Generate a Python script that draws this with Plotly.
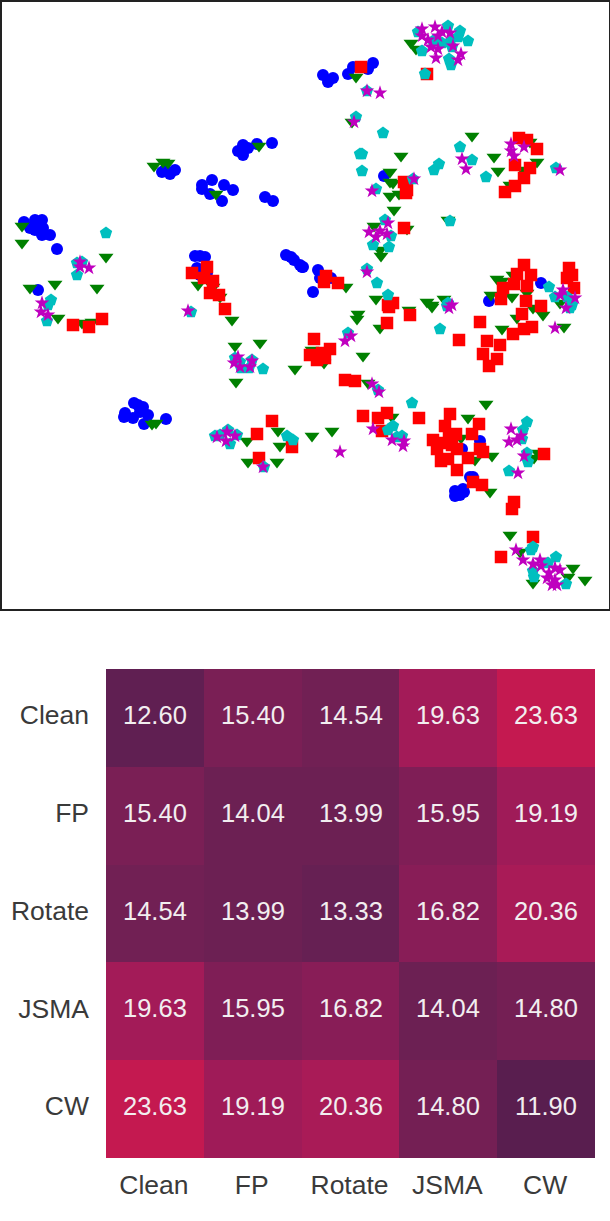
import plotly.graph_objects as go

# embedding points
blue_x = [24,35,42,30,35,43,42,50,57,38,162,170,175,165,202,202,212,210,224,233,222,243,238,243,248,257,272,265,273,195,200,205,197,200,207,286,291,294,300,302,323,328,333,353,348,368,373,384,303,318,320,331,313,541,489,134,143,125,124,133,140,148,144,166,138,480,462,473,470,455,463,455,460,464]
blue_y = [222,220,220,228,230,228,235,235,249,290,172,174,170,170,185,189,180,194,185,190,201,145,151,155,148,144,143,197,201,256,256,257,268,275,273,255,257,260,265,267,75,82,78,67,74,69,63,176,267,270,278,278,292,283,301,403,407,413,417,418,412,415,424,419,405,441,449,477,477,491,489,496,495,492]

green_x = [22,22,106,30,55,97,154,163,168,259,216,198,213,220,411,416,356,352,472,401,494,498,537,390,390,393,390,399,394,374,448,407,380,381,510,523,530,346,376,427,432,444,497,502,513,491,512,527,560,58,82,92,232,235,260,295,236,152,156,247,278,280,248,277,358,357,409,432,380,502,517,543,533,564,312,324,363,368,392,312,332,468,486,461,492,475,490,510,520,533,573,568,585,534,538]
green_y = [226,243,257,288,284,288,166,162,163,146,194,285,287,297,43,49,77,122,136,156,157,171,162,172,182,183,196,194,210,226,220,229,250,256,185,170,142,287,299,302,305,299,279,281,275,295,297,293,303,318,323,322,320,346,343,369,382,424,423,441,431,446,462,462,314,319,310,307,328,329,318,315,308,327,350,363,356,383,417,436,431,418,404,438,456,460,492,535,552,583,568,577,580,458,453]

red_x = [192,207,204,213,210,219,361,427,519,527,537,515,530,524,515,505,404,407,406,404,326,324,338,524,517,531,514,527,503,501,526,541,569,567,572,574,388,393,73,89,102,225,272,257,259,292,389,410,387,480,459,487,500,483,497,489,513,524,532,522,314,330,310,317,325,322,345,355,363,378,387,382,419,450,445,479,472,449,456,433,440,437,452,457,480,483,468,441,448,457,473,482,544,514,512,533,501]
red_y = [273,267,278,281,293,295,67,74,138,140,149,165,168,178,186,192,182,190,193,228,276,282,283,265,274,275,284,286,288,299,301,306,268,278,275,288,305,303,325,327,319,309,421,434,458,447,307,315,323,322,340,341,345,354,359,366,334,329,327,314,339,349,355,360,358,353,380,381,416,418,413,431,418,414,426,424,434,435,434,440,443,449,445,449,449,452,458,461,459,470,482,485,454,502,509,537,557]

cyan_x = [106,77,82,77,51,48,418,448,460,468,458,450,442,433,422,452,449,451,425,367,356,383,362,360,362,460,472,439,434,486,413,376,556,385,450,391,389,373,367,377,388,549,555,567,572,448,47,191,240,235,252,241,249,263,215,228,237,230,220,264,287,293,348,440,412,378,393,388,402,397,527,523,522,527,528,509,533,531,556,548,533,534,566,570,447]
cyan_y = [233,263,262,275,300,305,32,26,31,41,37,42,43,41,51,47,59,65,74,91,117,133,154,154,171,147,160,164,170,177,179,189,168,220,221,236,247,245,269,283,295,287,297,297,305,303,321,312,362,358,360,368,368,369,436,430,435,444,435,467,436,440,333,329,403,390,426,430,436,437,422,430,439,453,462,471,547,550,557,563,571,577,584,308,306]

magenta_x = [80,80,89,42,422,435,442,450,438,422,428,453,431,438,436,461,458,367,380,354,511,524,511,514,462,466,560,414,372,388,369,380,387,376,367,563,560,575,452,41,48,188,238,234,240,252,250,227,217,235,226,263,449,566,555,351,345,372,379,373,392,404,403,340,511,521,517,509,524,518,516,523,533,540,541,555,560,549,547,555,552,557]
magenta_y = [262,267,268,303,29,27,32,33,36,36,40,46,47,49,58,54,60,91,93,122,144,147,151,156,159,169,170,179,191,223,232,231,234,237,272,290,295,298,305,312,315,311,357,363,367,361,367,432,437,436,441,467,308,308,328,336,341,384,392,429,440,441,446,452,429,436,440,442,456,473,550,560,564,560,566,568,570,573,578,580,585,585]

# distance matrix
labels = ["Clean", "FP", "Rotate", "JSMA", "CW"]
cells = [0, 1, 2, 3, 4]
dist = [
    [12.60, 15.40, 14.54, 19.63, 23.63],
    [15.40, 14.04, 13.99, 15.95, 19.19],
    [14.54, 13.99, 13.33, 16.82, 20.36],
    [19.63, 15.95, 16.82, 14.04, 14.80],
    [23.63, 19.19, 20.36, 14.80, 11.90],
]

W = 610
H = 1221

fig = go.Figure()

# draw order matters, later classes sit on top
fig.add_trace(go.Scatter(x=blue_x, y=blue_y, mode="markers",
                         marker=dict(symbol="circle", size=12, color="#0000ff", line_width=0)))
fig.add_trace(go.Scatter(x=green_x, y=green_y, mode="markers",
                         marker=dict(symbol="triangle-down", size=13, color="#008000", line_width=0)))
fig.add_trace(go.Scatter(x=red_x, y=red_y, mode="markers",
                         marker=dict(symbol="square", size=12.5, color="#ff0000", line_width=0)))
fig.add_trace(go.Scatter(x=cyan_x, y=cyan_y, mode="markers",
                         marker=dict(symbol="pentagon", size=13, color="#00bfbf", line_width=0)))
fig.add_trace(go.Scatter(x=magenta_x, y=magenta_y, mode="markers",
                         marker=dict(symbol="star", size=11, color="#bf00bf", line_width=0)))

fig.add_trace(go.Heatmap(z=dist, x=cells, y=cells, xaxis="x2", yaxis="y2",
                         zmin=11.9, zmax=23.63, showscale=False,
                         colorscale=[[0, "#591e4f"], [0.06, "#601f52"], [0.18, "#6c2053"], [0.3, "#7a1f55"],
                                     [0.42, "#881d57"], [0.66, "#a31b58"], [1, "#c41950"]],
                         hoverinfo="skip"))

# cell values sit a little above the cell centre
for row in cells:
    for col in cells:
        fig.add_annotation(x=col, y=row, xref="x2", yref="y2", text=f"{dist[row][col]:.2f}",
                           showarrow=False, yshift=3, font=dict(size=25.5, color="#f2eef0"))

fig.update_layout(
    width=W, height=H, autosize=False,
    margin=dict(l=0, r=0, t=0, b=0),
    showlegend=False,
    paper_bgcolor="white", plot_bgcolor="white",
    font=dict(family="Liberation Sans, Arial, sans-serif"),
    xaxis=dict(domain=[1.5 / W, 608.5 / W], range=[1.5, 608.5], showgrid=False, zeroline=False,
               showticklabels=False, ticks="", showline=True, mirror=True, linecolor="#222222", linewidth=1.5),
    yaxis=dict(domain=[1 - 608.5 / H, 1 - 1.5 / H], range=[608.5, 1.5], showgrid=False, zeroline=False,
               showticklabels=False, ticks="", showline=True, mirror=True, linecolor="#222222", linewidth=1.5),
    xaxis2=dict(domain=[106 / W, 595 / W], anchor="y2", range=[-0.5, 4.5], showgrid=False, zeroline=False,
                tickvals=[c - 0.01 for c in cells], ticktext=labels, ticks="", ticklen=0,
                ticklabelstandoff=8, tickfont=dict(size=26.5, color="#3a3a3a")),
    yaxis2=dict(domain=[1 - 1158 / H, 1 - 669 / H], anchor="x2", range=[4.5, -0.5], showgrid=False, zeroline=False,
                tickvals=[c - 0.03 for c in cells], ticktext=labels, ticks="", ticklen=0,
                ticklabelstandoff=16, tickfont=dict(size=26.5, color="#3a3a3a")),
)

fig.write_html("out.html", config={"displayModeBar": False},
               post_script="document.body.style.margin='0';document.body.style.overflow='hidden';")
